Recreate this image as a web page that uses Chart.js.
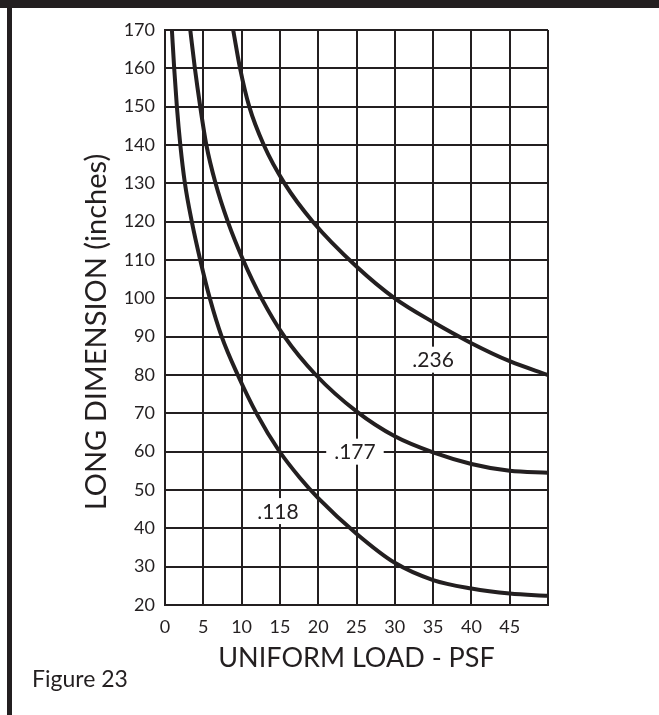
<!DOCTYPE html>
<html><head><meta charset="utf-8">
<script src="https://cdn.jsdelivr.net/npm/chart.js@4.4.1/dist/chart.umd.min.js"></script>
<style>
html,body{margin:0;padding:0;background:#fff;}
#wrap{position:relative;width:659px;height:715px;overflow:hidden;background:#fff;}
#topbar{position:absolute;left:0;top:0;width:659px;height:8px;background:#231f20;}
#leftbar{position:absolute;left:7px;top:0;width:5px;height:715px;background:#231f20;}
canvas{position:absolute;left:0;top:0;}
</style></head><body>
<div id="wrap"><canvas id="c" width="659" height="715"></canvas><div id="topbar"></div><div id="leftbar"></div></div>
<script>
// ---- data ----
const seriesNames = ['.118', '.177', '.236'];
const load118 = [0.9, 1.2, 1.55, 2.0, 2.6, 3.5, 4.6, 5.85, 7.4, 9.5, 12.0, 14.8, 17.6, 20.0, 25, 30, 35, 40, 45, 50];
const dim118  = [170, 160, 150, 140, 130, 120, 110, 100, 90, 80, 69.8, 60.5, 53.2, 47.9, 38.6, 31.0, 26.5, 24.3, 23.0, 22.4];
const load177 = [3.3, 3.9, 4.6, 5.4, 6.6, 8.2, 10.2, 12.6, 15.6, 19.7, 25, 30, 35, 40, 45, 50];
const dim177  = [170, 160, 150, 140, 130, 120, 110, 100, 90, 80, 70.5, 64, 59.8, 56.8, 55, 54.5];
const load236 = [8.9, 9.8, 11.0, 12.9, 15.6, 19.3, 25, 30, 35, 40, 45, 50];
const dim236  = [170, 160, 150, 140, 130, 120, 108.3, 100, 93.8, 88.3, 83.6, 80];
const labelLoads = [14.75, 24.8, 35];
const labelDims  = [44.5, 60, 84];
const xTickValues = [0, 5, 10, 15, 20, 25, 30, 35, 40, 45];
const yTickValues = [20, 30, 40, 50, 60, 70, 80, 90, 100, 110, 120, 130, 140, 150, 160, 170];
const xTitle = 'UNIFORM LOAD - PSF';
const yTitle = 'LONG DIMENSION (inches)';
const caption = 'Figure 23';

const INK = '#231f20';
const FONT = 'Lato, "Open Sans", sans-serif';
const pts = (xs, ys) => xs.map((x, i) => ({x, y: ys[i]}));

const textPlugin = {
  id: 'texts',
  afterDatasetsDraw(chart) {
    const {ctx, scales: {x, y}} = chart;
    ctx.save();
    // curve labels
    ctx.font = '21px ' + FONT;
    ctx.textAlign = 'center';
    ctx.textBaseline = 'middle';
    seriesNames.forEach((name, i) => {
      const px = x.getPixelForValue(labelLoads[i]);
      const py = y.getPixelForValue(labelDims[i]);
      const w = ctx.measureText(name).width + 16;
      ctx.fillStyle = '#fff';
      ctx.fillRect(px - w / 2, py - 13, w, 26);
      ctx.fillStyle = INK;
      ctx.fillText(name, px, py + 1);
    });
    // y axis title
    ctx.save();
    ctx.translate(97, 332);
    ctx.rotate(-Math.PI / 2);
    ctx.font = '29px ' + FONT;
    ctx.fillStyle = INK;
    ctx.textAlign = 'center';
    ctx.textBaseline = 'middle';
    ctx.fillText(yTitle, 0, 0);
    ctx.restore();
    // caption
    ctx.font = '23px ' + FONT;
    ctx.fillStyle = INK;
    ctx.textAlign = 'left';
    ctx.textBaseline = 'alphabetic';
    ctx.fillText(caption, 32, 687);
    ctx.restore();
  }
};

const ds = (data) => ({
  data, borderColor: INK, borderWidth: 4, pointRadius: 0,
  cubicInterpolationMode: 'monotone', fill: false
});

new Chart(document.getElementById('c'), {
  type: 'line',
  data: {
    datasets: [
      ds(pts(load118, dim118)),
      ds(pts(load177, dim177)),
      ds(pts(load236, dim236))
    ]
  },
  options: {
    responsive: false,
    animation: false,
    devicePixelRatio: 1,
    layout: {padding: {left: 0, right: 111, top: 30, bottom: 0}},
    plugins: {legend: {display: false}, tooltip: {enabled: false}},
    scales: {
      x: {
        type: 'linear', min: 0, max: 50,
        afterBuildTicks: s => { s.ticks = xTickValues.concat([50]).map(v => ({value: v})); },
        ticks: {
          callback: v => xTickValues.includes(v) ? String(v) : '',
          font: {family: FONT, size: 18}, color: INK, padding: 11, maxRotation: 0, autoSkip: false
        },
        grid: {color: INK, lineWidth: 2, drawTicks: false},
        border: {color: INK, width: 2},
        title: {display: true, text: xTitle, color: INK, font: {family: FONT, size: 27}, padding: {top: 0, bottom: 41}},
        afterFit: s => { s.height = 110; }
      },
      y: {
        type: 'linear', min: 20, max: 170,
        afterBuildTicks: s => { s.ticks = yTickValues.map(v => ({value: v})); },
        ticks: {font: {family: FONT, size: 18}, color: INK, padding: 10, autoSkip: false},
        grid: {color: INK, lineWidth: 2, drawTicks: false},
        border: {color: INK, width: 2},
        title: {display: false},
        afterFit: s => { s.width = 165; }
      }
    }
  },
  plugins: [textPlugin]
});
</script>
</body></html>
